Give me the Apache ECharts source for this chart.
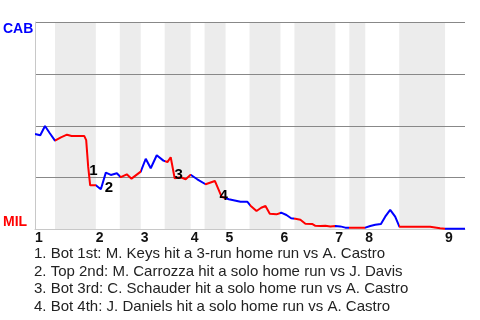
<!DOCTYPE html>
<html>
<head>
<meta charset="utf-8">
<script src="https://cdn.jsdelivr.net/npm/echarts@6/dist/echarts.min.js"></script>
<style>html,body{margin:0;padding:0;background:#fff}#c{width:480px;height:320px}</style>
</head>
<body>
<div id="c"></div>
<script>
// Game progress (plate-appearance units) and CAB win probability
const progress = [0, 1.14, 2.16, 3.17, 4.32, 5.61, 6.91, 7.92, 10.64, 11.07, 11.5, 11.93, 13.16, 14.24, 15.32, 16.4, 17.7, 18.56, 19.85, 20.87, 22.87, 23.95, 25.03, 26.33, 27.77, 28.64, 29.35, 30.21, 31.5, 32.59, 33.66, 35.1, 36.9, 38.9, 40.35, 41.93, 44.45, 45.9, 46.61, 47.91, 48.92, 49.85, 50.78, 52.22, 53.24, 54.38, 55.4, 56.32, 57.4, 58.48, 59.93, 60.64, 61.72, 62.8, 63.88, 64.96, 66.04, 67.12, 71.43, 72.51, 73.59, 74.82, 75.74, 76.82, 77.9, 78.83, 85.46, 87.61, 88.69, 93];
const cabWinProb = [0.46, 0.454, 0.499, 0.465, 0.428, 0.444, 0.457, 0.451, 0.451, 0.431, 0.303, 0.213, 0.213, 0.194, 0.274, 0.263, 0.271, 0.252, 0.266, 0.245, 0.279, 0.341, 0.295, 0.358, 0.332, 0.325, 0.348, 0.247, 0.252, 0.242, 0.264, 0.242, 0.218, 0.234, 0.158, 0.146, 0.134, 0.134, 0.115, 0.089, 0.105, 0.113, 0.076, 0.073, 0.081, 0.070, 0.054, 0.052, 0.047, 0.028, 0.027, 0.018, 0.017, 0.018, 0.015, 0.017, 0.015, 0.009, 0.009, 0.017, 0.023, 0.027, 0.062, 0.095, 0.062, 0.013, 0.013, 0.006, 0.004, 0.004];
// Half-inning start positions (top 1st, bot 1st, top 2nd, ...)
const halfStarts = [0, 4.32, 13.16, 18.34, 22.87, 28.05, 33.66, 36.68, 41.22, 46.4, 53.09, 56.11, 64.96, 67.98, 71.43, 78.77, 88.69];
const gameEnd = 93;
const inningLabels = ['1', '2', '3', '4', '5', '6', '7', '8', '9'];
const teams = ['CAB', 'MIL'];
// Key events
const eventNums = ['1', '2', '3', '4'];
const eventX = [12.62, 15.97, 31.07, 40.79];
const eventY = [0.282, 0.201, 0.263, 0.161];
const notes = [
  '1. Bot 1st: M. Keys hit a 3-run home run vs A. Castro',
  '2. Top 2nd: M. Carrozza hit a solo home run vs J. Davis',
  '3. Bot 3rd: C. Schauder hit a solo home run vs A. Castro',
  '4. Bot 4th: J. Daniels hit a solo home run vs A. Castro'
];

const BLUE = '#0000ff', RED = '#ff0000';
const lineData = progress.map((x, i) => [x, cabWinProb[i]]);
const pieces = halfStarts.map((s, i) => ({
  gte: s, lt: i + 1 < halfStarts.length ? halfStarts[i + 1] : gameEnd + 1,
  color: i % 2 === 0 ? BLUE : RED
}));
const bands = [];
halfStarts.forEach((s, i) => {
  if (i % 2 === 1) {
    const e = i + 1 < halfStarts.length ? halfStarts[i + 1] : gameEnd;
    bands.push([{ xAxis: s }, { xAxis: e }]);
  }
});
const topStarts = halfStarts.filter((s, i) => i % 2 === 0);
const labelFont = 'Liberation Sans, Arial, sans-serif';

const chart = echarts.init(document.getElementById('c'), null, { renderer: 'canvas' });
chart.setOption({
  animation: false,
  backgroundColor: '#fff',
  title: {
    text: notes.join('\n'),
    left: 34, top: 245, padding: 0,
    textStyle: { fontFamily: labelFont, fontSize: 15, fontWeight: 'normal', color: '#222', lineHeight: 17.7 }
  },
  grid: { left: 34, top: 22, right: 15, bottom: 90.5, containLabel: false },
  xAxis: {
    type: 'value', min: 0, max: gameEnd, z: 2,
    axisLine: { show: true, lineStyle: { color: '#c8c8c8', width: 1 } },
    axisTick: { show: false },
    splitLine: { show: false },
    axisLabel: {
      customValues: topStarts,
      formatter: v => { const k = topStarts.findIndex(t => Math.abs(t - v) < 1e-6); return k >= 0 ? inningLabels[k] : ''; },
      align: 'left', margin: 2,
      fontFamily: labelFont, fontSize: 14, fontWeight: 'bold', color: '#111'
    }
  },
  yAxis: [{
    type: 'value', min: 0, max: 1, interval: 0.25, position: 'left', z: 2,
    axisLine: { show: true, lineStyle: { color: '#c8c8c8', width: 1 } },
    axisTick: { show: false },
    splitLine: { show: true, lineStyle: { color: ['transparent', '#888', '#888', '#888', '#888'], width: 1 } },
    axisLabel: {
      formatter: v => v === 1 ? teams[0] : '',
      align: 'left', margin: 32, verticalAlign: 'top',
      fontFamily: labelFont, fontSize: 14, fontWeight: 'bold', color: BLUE
    }
  }, {
    type: 'value', min: 0, max: 1, interval: 0.25, position: 'left',
    axisLine: { show: false }, axisTick: { show: false }, splitLine: { show: false },
    axisLabel: {
      formatter: v => v === 0 ? teams[1] : '',
      align: 'left', margin: 32, verticalAlign: 'bottom',
      fontFamily: labelFont, fontSize: 14, fontWeight: 'bold', color: RED
    }
  }],
  visualMap: { type: 'piecewise', show: false, dimension: 0, seriesIndex: 1, pieces: pieces },
  series: [{
    type: 'line', data: [], z: 0, silent: true,
    markArea: { silent: true, z: 0, itemStyle: { color: '#ececec' }, data: bands }
  }, {
    type: 'line', data: lineData, z: 3, showSymbol: false, symbol: 'none',
    lineStyle: { width: 2 }
  }, {
    type: 'line', data: [], z: 4, silent: true,
    markPoint: {
      silent: true, symbol: 'circle', symbolSize: 0, z: 5,
      itemStyle: { color: '#000', opacity: 1 },
      label: { show: true, position: 'inside', formatter: p => p.name, textBorderWidth: 0, opacity: 1,
        fontFamily: labelFont, fontSize: 15, fontWeight: 'bold', color: '#000' },
      data: eventX.map((x, i) => ({ coord: [x, eventY[i]], name: eventNums[i] }))
    }
  }]
});
</script>
</body>
</html>
